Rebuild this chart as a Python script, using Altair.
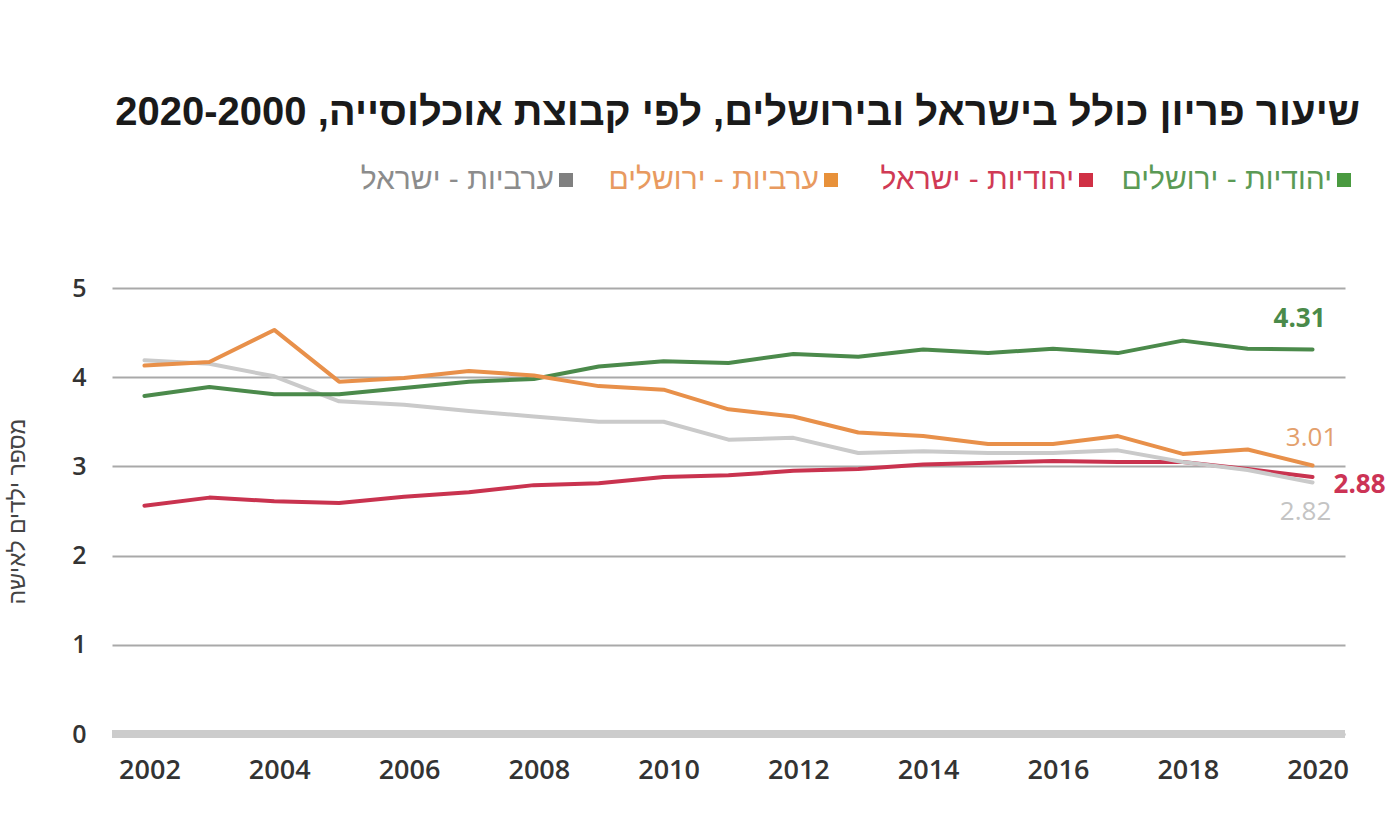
import altair as alt
import pandas as pd

# Total fertility rate by population group, 2002-2020
years = list(range(2002, 2021))
jewish_jerusalem = [3.79, 3.89, 3.81, 3.81, 3.88, 3.95, 3.98, 4.12, 4.18, 4.16,
                    4.26, 4.23, 4.31, 4.27, 4.32, 4.27, 4.41, 4.32, 4.31]
jewish_israel = [2.56, 2.65, 2.61, 2.59, 2.66, 2.71, 2.79, 2.81, 2.88, 2.90,
                 2.95, 2.97, 3.02, 3.04, 3.06, 3.05, 3.05, 2.97, 2.88]
arab_jerusalem = [4.13, 4.17, 4.53, 3.95, 3.99, 4.07, 4.02, 3.90, 3.86, 3.64,
                  3.56, 3.38, 3.34, 3.25, 3.25, 3.34, 3.14, 3.19, 3.01]
arab_israel = [4.19, 4.15, 4.01, 3.73, 3.69, 3.62, 3.56, 3.50, 3.50, 3.30,
               3.32, 3.15, 3.17, 3.15, 3.15, 3.18, 3.05, 2.96, 2.82]

series_names = ["יהודיות - ירושלים", "יהודיות - ישראל", "ערביות - ירושלים", "ערביות - ישראל"]
series_values = [jewish_jerusalem, jewish_israel, arab_jerusalem, arab_israel]
line_colors = ["#4b8a4b", "#c9334f", "#e8904a", "#cacaca"]
square_colors = ["#4a9a40", "#d03045", "#e8913a", "#808080"]
legend_text_colors = ["#5b9a55", "#d03a55", "#e89a60", "#8c8c8c"]

x_ticks = list(range(2002, 2021, 2))
y_ticks = [0, 1, 2, 3, 4, 5]

title_text = "\u200fשיעור פריון כולל בישראל ובירושלים, לפי קבוצת אוכלוסייה, 2020-2000\u200f"
y_title = "מספר ילדים לאישה"

W, H = 1233, 446
HEB = "Liberation Sans"
NUM = "Open Sans"

x_scale = alt.Scale(domain=[2001.5, 2020.5], nice=False, zero=False)
y_scale = alt.Scale(domain=[0, 5], nice=False)

x_axis = alt.Axis(values=x_ticks, format="d", title=None, grid=False,
                  domain=False, ticks=False, labelFontSize=27,
                  labelFontWeight=600, labelFont=NUM, labelColor="#333333",
                  labelPadding=23, labelOffset=5)
y_axis = alt.Axis(values=y_ticks, title=y_title, grid=True,
                  gridColor="#a9a9a9", gridWidth=2, domain=False,
                  ticks=False, labelFontSize=25, labelFontWeight=600,
                  labelFont=NUM, labelColor="#333333", labelPadding=26,
                  titleFont=HEB, titleFontSize=23,
                  titleFontWeight="normal", titleColor="#444444",
                  titleAngle=270, titleX=-95, titleY=223,
                  titleAlign="center", titleBaseline="middle")

x_enc = alt.X("year:Q", scale=x_scale, axis=x_axis)
y_enc = alt.Y("value:Q", scale=y_scale, axis=y_axis)

layers = []

# thick baseline at zero
layers.append(alt.Chart(pd.DataFrame({"value": [0]})).mark_rule(
    color="#cccccc", strokeWidth=8).encode(
    y=y_enc, x=alt.value(0), x2=alt.value(W)))

# series lines (drawn bottom to top)
draw_order = [1, 3, 0, 2]
for i in draw_order:
    df = pd.DataFrame({"year": years, "value": series_values[i]})
    layers.append(alt.Chart(df).mark_line(
        color=line_colors[i], strokeWidth=4, strokeJoin="round", strokeCap="round"
    ).encode(x=x_enc, y=y_enc))

# end-of-line value labels
end_styles = [
    dict(color="#4a8a4a", dx=-13, dy=-31, fontWeight="bold"),
    dict(color="#cc3355", dx=47, dy=8, fontWeight="bold"),
    dict(color="#e3a06c", dx=-1, dy=-28, fontWeight="normal"),
    dict(color="#c4c4c4", dx=-7, dy=30, fontWeight="normal"),
]
for i, st in enumerate(end_styles):
    df = pd.DataFrame({"year": [years[-1]], "value": [series_values[i][-1]]})
    layers.append(alt.Chart(df).mark_text(
        font=NUM, fontSize=26, align="center", baseline="middle", **st
    ).encode(x=x_enc, y=y_enc, text=alt.Text("value:Q", format=".2f")))

# title
layers.append(alt.Chart(pd.DataFrame({"t": [title_text]})).mark_text(
    font=HEB, fontSize=40, fontWeight="bold", color="#1a1a1a",
    align="right", baseline="middle"
).encode(x=alt.value(1248), y=alt.value(-175), text="t:N"))

# legend: square to the right of each label
square_x = [1232, 974, 719, 454]
for i in range(4):
    layers.append(alt.Chart(pd.DataFrame({"t": [series_names[i]]})).mark_text(
        font=HEB, fontSize=30, color=legend_text_colors[i],
        align="right", baseline="middle"
    ).encode(x=alt.value(square_x[i] - 12), y=alt.value(-108), text="t:N"))
    layers.append(alt.Chart(pd.DataFrame({"t": [series_names[i]]})).mark_point(
        shape="square", filled=True, size=196, opacity=1, color=square_colors[i]
    ).encode(x=alt.value(square_x[i]), y=alt.value(-108)))

chart = alt.layer(*layers).properties(
    width=W, height=H,
    autosize=alt.AutoSizeParams(type="none"),
    padding={"left": 112, "top": 288, "right": 55, "bottom": 81},
    background="white",
).configure_view(stroke=None)

chart.save("out.html", embed_options={"renderer": "svg", "actions": False})
